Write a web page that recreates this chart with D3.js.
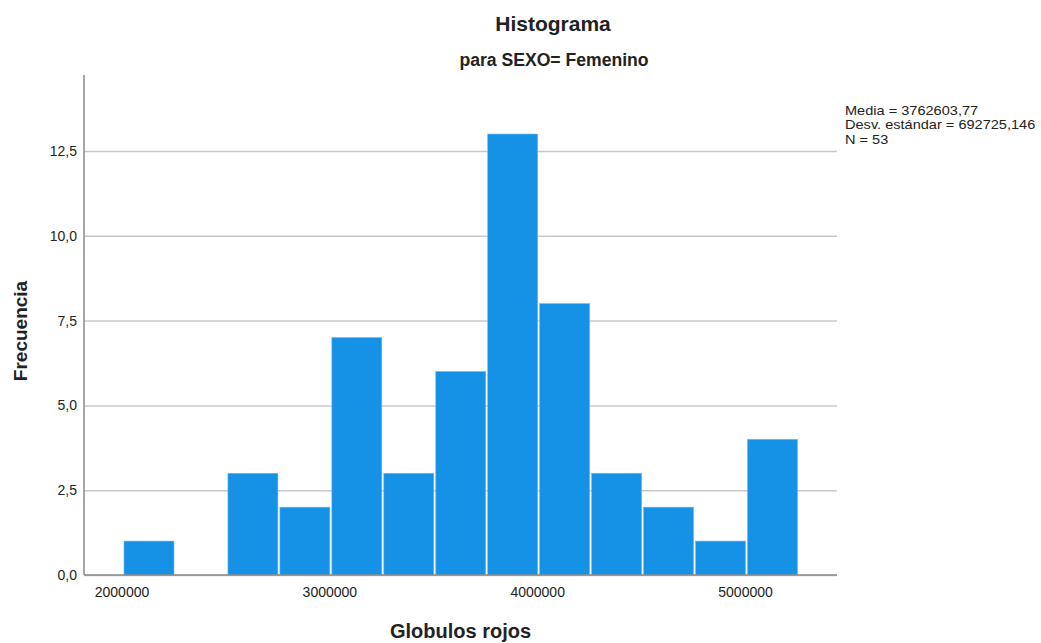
<!DOCTYPE html>
<html><head><meta charset="utf-8">
<script src="https://cdn.jsdelivr.net/npm/d3@7"></script>
<style>
body{margin:0;background:#fff;}
text{font-family:"Liberation Sans",Arial,sans-serif;fill:#222;}
</style></head>
<body><svg id="c" width="1041" height="643"></svg>
<script>
const binStarts = [2000000,2250000,2500000,2750000,3000000,3250000,3500000,3750000,4000000,4250000,4500000,4750000,5000000];
const counts = [1,0,3,2,7,3,6,13,8,3,2,1,4];
const binWidth = 250000;
const xTicks = [2000000,3000000,4000000,5000000];
const yTicks = [0,2.5,5,7.5,10,12.5];
const title = "Histograma";
const subtitle = "para SEXO= Femenino";
const xLabel = "Globulos rojos";
const yLabel = "Frecuencia";
const stats = ["Media = 3762603,77","Desv. estándar = 692725,146","N = 53"];

const svg = d3.select("#c");
const L=84, R=837, T=75, B=575;
const x = d3.scaleLinear().domain([1812300,5435300]).range([L,R]);
const y = d3.scaleLinear().domain([0,14.74]).range([B,T]);

// gridlines
const yAxis = d3.axisLeft(y).tickValues(yTicks).tickSize(-(R-L)).tickPadding(7)
  .tickFormat(d=>d3.format(".1f")(d).replace(".",","));
const gy = svg.append("g").attr("transform",`translate(${L},0)`).call(yAxis);
gy.select(".domain").remove();
gy.selectAll(".tick line").attr("stroke","#c8c8c8").attr("stroke-width",1.5);
gy.selectAll(".tick text").attr("font-size","14px").attr("fill","#222").attr("font-family","Liberation Sans, Arial, sans-serif");

// bars
svg.append("g").selectAll("rect").data(binStarts.map((s,i)=>({s,c:counts[i]})).filter(d=>d.c>0))
  .join("rect")
  .attr("x",d=>x(d.s)+1)
  .attr("width",d=>x(d.s+binWidth)-x(d.s)-2)
  .attr("y",d=>y(d.c))
  .attr("height",d=>y(0)-y(d.c))
  .attr("fill","#1591e6")
  .attr("stroke","#6cb9f0").attr("stroke-width",0.6);

// x axis
const xAxis = d3.axisBottom(x).tickValues(xTicks).tickSize(0).tickPadding(12).tickFormat(d3.format("d"));
const gx = svg.append("g").attr("transform",`translate(0,${B})`).call(xAxis);
gx.select(".domain").remove();
gx.selectAll(".tick text").attr("font-size","14px").attr("fill","#222").attr("font-family","Liberation Sans, Arial, sans-serif").attr("dx",-1.5);

// axis lines
svg.append("line").attr("x1",L).attr("x2",L).attr("y1",T).attr("y2",B).attr("stroke","#8a8a8a").attr("stroke-width",1.5);
svg.append("line").attr("x1",L).attr("x2",R).attr("y1",B).attr("y2",B).attr("stroke","#8a8a8a").attr("stroke-width",1.5);

// titles
svg.append("text").attr("x",553).attr("y",31).attr("text-anchor","middle").attr("font-size","21px").attr("font-weight","bold").text(title);
svg.append("text").attr("x",554).attr("y",66).attr("text-anchor","middle").attr("font-size","17.6px").attr("font-weight","bold").text(subtitle);
svg.append("text").attr("x",(L+R)/2).attr("y",638).attr("text-anchor","middle").attr("font-size","20px").attr("font-weight","bold").text(xLabel);
svg.append("text").attr("transform","translate(27,331) rotate(-90)").attr("text-anchor","middle").attr("font-size","19px").attr("font-weight","bold").text(yLabel);

// stats legend
svg.append("g").attr("transform","translate(845,0) scale(1.12,1)").selectAll("text").data(stats).join("text")
  .attr("x",0).attr("y",(d,i)=>115+i*14.5)
  .attr("font-size","13px").text(d=>d);
</script></body></html>
